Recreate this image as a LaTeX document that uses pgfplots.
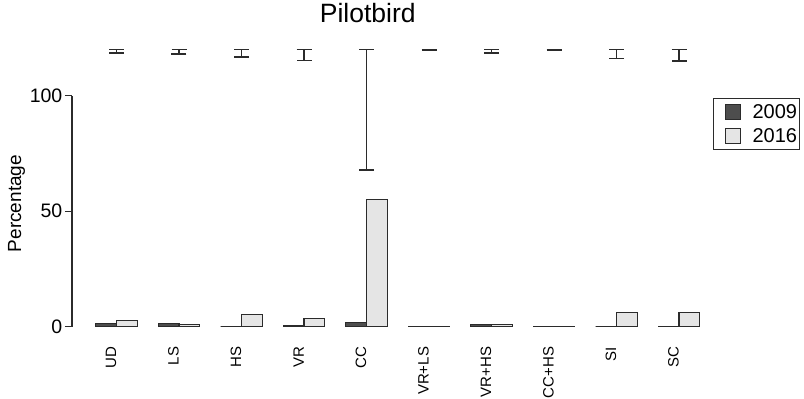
\documentclass[border=0pt]{standalone}
\usepackage{pgfplots}
\pgfplotsset{compat=1.18}
\usepackage{pgfplotstable}
\usepackage{fontspec}
\setmainfont{Liberation Sans}

\definecolor{darkbar}{HTML}{4D4D4D}
\definecolor{lightbar}{HTML}{E5E5E5}
\definecolor{edge}{HTML}{2B2B2B}

% percentage of nests per category; ci = upper end of interval, cim = its length
\pgfplotstableread{
x  y09  y16   ci   cip   cim
0  1.3  2.7   120  0.01  1.5
1  1.3  1.1   120  0.01  2.0
2  0    5.4   120  0.01  3.3
3  0.5  3.6   120  0.01  4.7
4  1.8  55.0  120  0.01  52.2
5  0    0     120  0.01  0.4
6  1.0  1.0   120  0.01  1.6
7  0    0     120  0.01  0.3
8  0    6.0   120  0.01  4.0
9  0    6.2   120  0.01  5.0
}\pilot

\begin{document}
\begin{tikzpicture}
\path (0,0) rectangle (804pt,399pt);
\begin{axis}[
  at={(72pt,72.3pt)}, anchor=south west,
  scale only axis, width=651.5pt, height=231pt,
  xmin=-0.712, xmax=9.712, ymin=0, ymax=100,
  clip=false,
  axis lines=left,
  axis line style={-, line width=1.2pt, draw=edge},
  x axis line style={draw=none},
  xtick={0,...,9},
  xticklabels={UD,LS,HS,VR,CC,VR+LS,VR+HS,CC+HS,SI,SC},
  xtick style={draw=none},
  xticklabel style={rotate=90, anchor=south east, inner sep=0pt,
    font=\fontsize{15}{15}\selectfont},
  xticklabel shift=13pt,
  ytick={0,50,100},
  tick align=outside,
  major tick length=7pt,
  ytick style={line width=1.2pt, draw=edge},
  yticklabel style={font=\fontsize{19.5}{19.5}\selectfont, inner sep=0pt, xshift=-2.5pt},
  /pgf/number format/assume math mode=true,
  ylabel={Percentage},
  every axis y label/.style={at={(axis description cs:-0.0852,0.533)},
    rotate=90, anchor=center, font=\fontsize{19}{19}\selectfont},
  title={Pilotbird},
  title style={at={(axis description cs:0.454,1.332)}, anchor=center,
    inner sep=0pt, font=\fontsize{26.5}{26.5}\selectfont},
  legend style={at={(axis description cs:0.984,0.989)}, anchor=north west,
    draw=edge, line width=1pt, font=\fontsize{20}{20}\selectfont,
    inner xsep=2.5pt, inner ysep=0.8pt, row sep=0pt, column sep=0pt,
    nodes={inner sep=0pt}},
  legend cell align=left,
  legend image code/.code={%
    \path[draw=none, fill=none] (0pt,-12.25pt) rectangle (36.5pt,12.25pt);
    \draw[#1, line width=1pt] (9.5pt,-7.5pt) rectangle (24.5pt,7.5pt);},
]
\addplot[ybar, bar width=20.8pt, bar shift=-10.4pt, fill=darkbar, draw=edge, line width=1.2pt]
  table[x=x, y=y09]{\pilot};
\addlegendentry{2009}
\addplot[ybar, bar width=20.8pt, bar shift=10.4pt, fill=lightbar, draw=edge, line width=1.2pt]
  table[x=x, y=y16]{\pilot};
\addlegendentry{2016}
\addplot[forget plot, draw=none, mark=none,
  error bars/.cd, y dir=both, y explicit,
  error bar style={line width=1.4pt, draw=edge, solid},
  error mark options={rotate=90, line width=1.4pt, mark size=7.5pt, draw=edge}]
  table[x=x, y=ci, y error plus=cip, y error minus=cim]{\pilot};
\end{axis}
\end{tikzpicture}
\end{document}
